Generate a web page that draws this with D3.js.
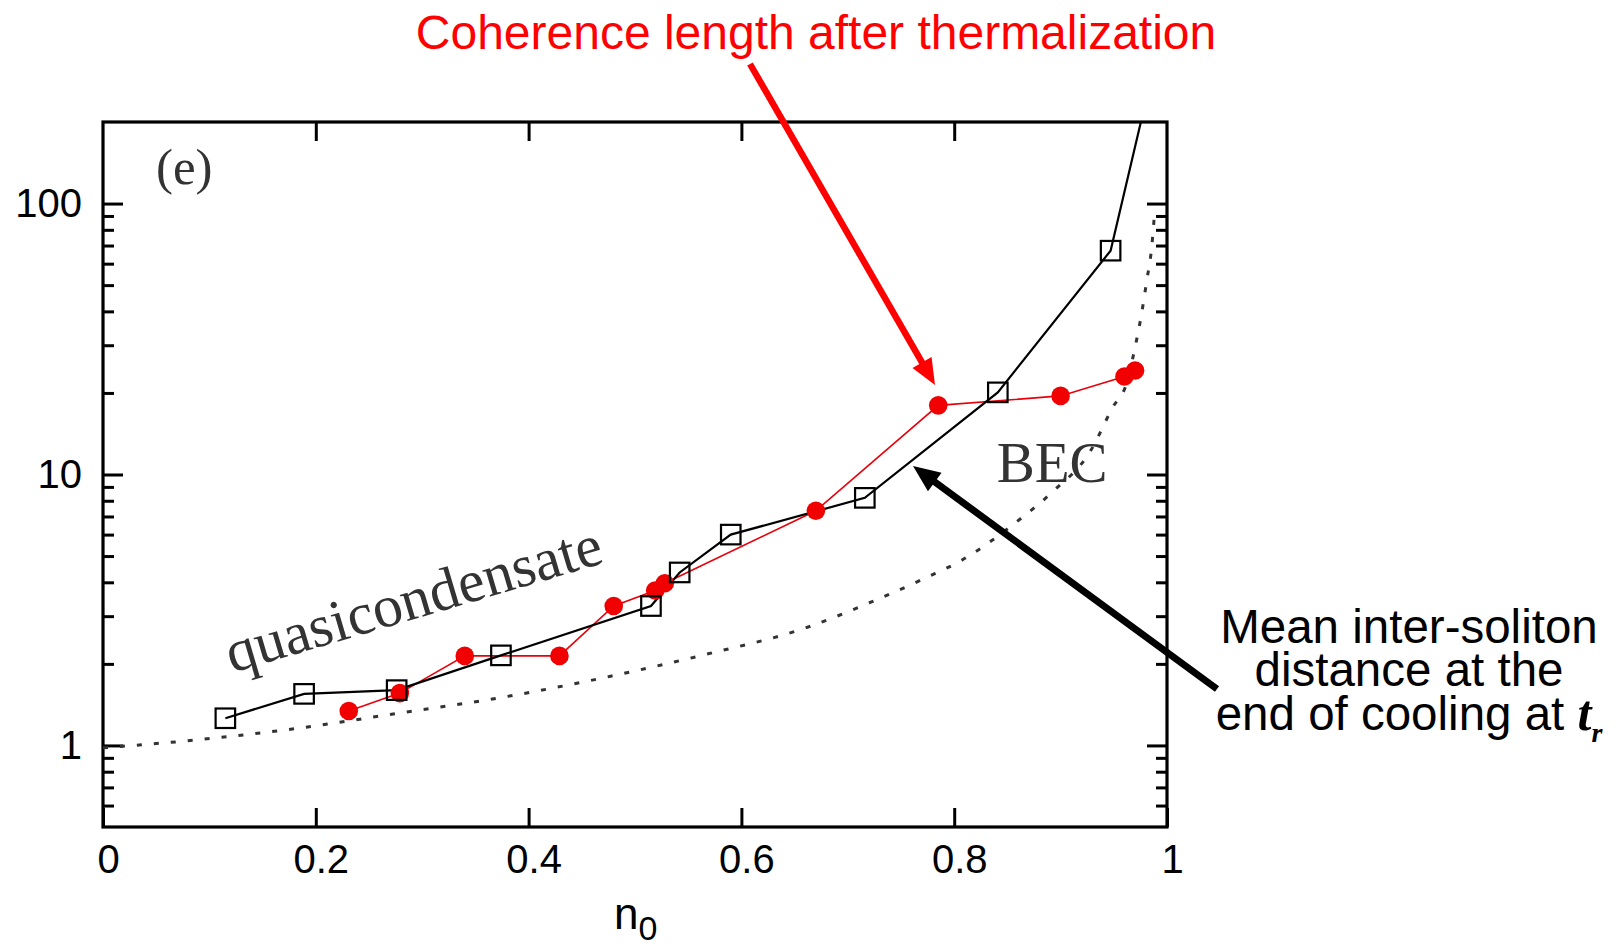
<!DOCTYPE html>
<html>
<head>
<meta charset="utf-8">
<script src="https://cdn.jsdelivr.net/npm/d3@7"></script>
<style>
  body { margin: 0; background: #fff; }
  svg { display: block; }
  .tick text { font-family: "Liberation Sans", Arial, Helvetica, sans-serif; font-size: 40px; fill: #000; }
</style>
</head>
<body>
<div id="chart"></div>
<script>
// black squares : mean inter-soliton distance at t_r
var squareN = [0.115, 0.189, 0.276, 0.374, 0.515, 0.542, 0.590, 0.716, 0.841, 0.947, 0.99];
var squareL = [1.26, 1.55, 1.60, 2.15, 3.27, 4.35, 6.0, 8.2, 20.1, 67, 350];
// red circles : coherence length after thermalization
var circleN = [0.231, 0.279, 0.340, 0.429, 0.480, 0.519, 0.528, 0.670, 0.785, 0.900, 0.960, 0.970];
var circleL = [1.34, 1.56, 2.14, 2.14, 3.27, 3.73, 3.97, 7.35, 18.0, 19.5, 23.0, 24.2];
// dotted reference curve
var dotN = [0.0, 0.09, 0.185, 0.28, 0.373, 0.477, 0.567, 0.661, 0.721, 0.774, 0.806, 0.835, 0.862, 0.892, 0.928, 0.949, 0.962, 0.970, 0.976, 0.981, 0.9856, 0.988];
var dotL = [0.98, 1.05, 1.16, 1.32, 1.50, 1.80, 2.17, 2.72, 3.37, 4.17, 4.80, 5.69, 6.85, 8.6, 12.2, 17.7, 21.7, 29.5, 39, 52, 69, 89];
// ticks
var xTicks = [0, 0.2, 0.4, 0.6, 0.8, 1];
var yMajor = [1, 10, 100];
var yMinor = [0.6, 0.7, 0.8, 0.9, 2, 3, 4, 5, 6, 7, 8, 9, 20, 30, 40, 50, 60, 70, 80, 90];

var W = 1616, H = 948;
var margin = {top: 122, right: 449, bottom: 121, left: 103},
    width = W - margin.left - margin.right,
    height = H - margin.top - margin.bottom;

var svg = d3.select("#chart").append("svg")
    .attr("width", W)
    .attr("height", H);

var g = svg.append("g")
    .attr("transform", "translate(" + margin.left + "," + margin.top + ")");

var x = d3.scaleLinear().domain([0, 1]).range([0, width]);
var y = d3.scaleLog().domain([0.5, 200]).range([height, 0]);

g.append("clipPath").attr("id", "plotclip")
  .append("rect").attr("width", width).attr("height", height);

// axes, ticks pointing inside
var bottomAxis = g.append("g")
    .attr("transform", "translate(0," + height + ")")
    .call(d3.axisBottom(x).tickValues(xTicks).tickSize(-19).tickPadding(18)
      .tickFormat(function(d){ return d3.format("")(d); }));
bottomAxis.selectAll("text").attr("dx", 5);

g.append("g")
    .call(d3.axisTop(x).tickValues([0.2, 0.4, 0.6, 0.8]).tickSize(-19).tickFormat(""));

g.append("g")
    .call(d3.axisLeft(y).tickValues(yMajor).tickSize(-20).tickPadding(21)
      .tickFormat(d3.format("d")));
g.append("g")
    .call(d3.axisLeft(y).tickValues(yMinor).tickSize(-11).tickFormat(""));
g.append("g").attr("transform", "translate(" + width + ",0)")
    .call(d3.axisRight(y).tickValues(yMajor).tickSize(-20).tickFormat(""));
g.append("g").attr("transform", "translate(" + width + ",0)")
    .call(d3.axisRight(y).tickValues(yMinor).tickSize(-11).tickFormat(""));

g.selectAll(".domain").remove();
g.selectAll(".tick line").attr("stroke", "#000").attr("stroke-width", 3);

g.append("rect")
    .attr("width", width).attr("height", height)
    .attr("fill", "none").attr("stroke", "#000").attr("stroke-width", 3.2);

var plot = g.append("g").attr("clip-path", "url(#plotclip)");

// dotted curve
var dotData = dotN.map(function(d, i){ return [d, dotL[i]]; });
plot.append("path")
    .datum(dotData)
    .attr("fill", "none")
    .attr("stroke", "#333")
    .attr("stroke-width", 3)
    .attr("stroke-dasharray", "5,12")
    .attr("d", d3.line()
      .curve(d3.curveMonotoneX)
      .x(function(d){ return x(d[0]); })
      .y(function(d){ return y(d[1]); }));

var lineGen = d3.line()
    .x(function(d){ return x(d[0]); })
    .y(function(d){ return y(d[1]); });

// red series
var circleData = circleN.map(function(d, i){ return [d, circleL[i]]; });
plot.append("path")
    .datum(circleData)
    .attr("fill", "none")
    .attr("stroke", "#e8000b")
    .attr("stroke-width", 1.6)
    .attr("d", lineGen);

// black series
var squareData = squareN.map(function(d, i){ return [d, squareL[i]]; });
plot.append("path")
    .datum(squareData)
    .attr("fill", "none")
    .attr("stroke", "#000")
    .attr("stroke-width", 2.2)
    .attr("d", lineGen);

plot.selectAll("circle.red")
    .data(circleData)
  .enter().append("circle")
    .attr("class", "red")
    .attr("cx", function(d){ return x(d[0]); })
    .attr("cy", function(d){ return y(d[1]); })
    .attr("r", 9.3)
    .attr("fill", "#f00000");

var sq = 19.5;
plot.selectAll("rect.sq")
    .data(squareData)
  .enter().append("rect")
    .attr("class", "sq")
    .attr("x", function(d){ return x(d[0]) - sq/2; })
    .attr("y", function(d){ return y(d[1]) - sq/2; })
    .attr("width", sq).attr("height", sq)
    .attr("fill", "none")
    .attr("stroke", "#000")
    .attr("stroke-width", 2.2);

// in-plot labels
g.append("text")
    .attr("x", 53).attr("y", 62)
    .style("font-family", "'Liberation Serif', 'Times New Roman', serif")
    .style("font-size", "51px")
    .attr("fill", "#333")
    .text("(e)");

g.append("text")
    .attr("transform", "translate(" + 129 + "," + 551 + ") rotate(-16.5)")
    .style("font-family", "'Liberation Serif', 'Times New Roman', serif")
    .style("font-size", "59.5px")
    .attr("fill", "#333")
    .text("quasicondensate");

g.append("text")
    .attr("x", x(0.84)).attr("y", 360)
    .style("font-family", "'Liberation Serif', 'Times New Roman', serif")
    .style("font-size", "57px")
    .attr("fill", "#333")
    .text("BEC");

// x axis title
var xt = svg.append("text")
    .attr("x", 614).attr("y", 929)
    .style("font-family", "'Liberation Sans', Arial, sans-serif")
    .style("font-size", "44px")
    .attr("fill", "#000");
xt.append("tspan").text("n");
xt.append("tspan").attr("dy", 11).style("font-size", "34px").text("0");

// annotations
function arrow(x1, y1, x2, y2, color, w, hl, hw) {
  var a = Math.atan2(y2 - y1, x2 - x1);
  var bx = x2 - hl * Math.cos(a), by = y2 - hl * Math.sin(a);
  svg.append("line")
      .attr("x1", x1).attr("y1", y1)
      .attr("x2", bx + 2 * Math.cos(a)).attr("y2", by + 2 * Math.sin(a))
      .attr("stroke", color).attr("stroke-width", w);
  var px = -Math.sin(a) * hw / 2, py = Math.cos(a) * hw / 2;
  svg.append("path")
      .attr("d", "M" + x2 + "," + y2 + "L" + (bx + px) + "," + (by + py) + "L" + (bx - px) + "," + (by - py) + "Z")
      .attr("fill", color);
}

svg.append("text")
    .attr("x", 816).attr("y", 49)
    .attr("text-anchor", "middle")
    .style("font-family", "'Liberation Sans', Arial, sans-serif")
    .style("font-size", "48px")
    .attr("fill", "#ff0000")
    .text("Coherence length after thermalization");
arrow(750, 64, 935, 385, "#ff0000", 6.5, 26, 22);

var note = svg.append("g")
    .style("font-family", "'Liberation Sans', Arial, sans-serif")
    .style("font-size", "47.5px")
    .attr("fill", "#000")
    .attr("text-anchor", "middle");
note.append("text").attr("x", 1409).attr("y", 643).text("Mean inter-soliton");
note.append("text").attr("x", 1409).attr("y", 686).text("distance at the");
var l3 = note.append("text").attr("x", 1409).attr("y", 730);
l3.append("tspan").text("end of cooling at ");
l3.append("tspan")
    .style("font-family", "'Liberation Serif', 'Times New Roman', serif")
    .style("font-weight", "bold").style("font-style", "italic")
    .style("font-size", "50px")
    .text("t");
l3.append("tspan").attr("dy", 12)
    .style("font-family", "'Liberation Serif', 'Times New Roman', serif")
    .style("font-weight", "bold").style("font-style", "italic")
    .style("font-size", "28px")
    .text("r");
arrow(1217, 689, 913, 466, "#000", 7, 27, 23);
</script>
</body>
</html>
